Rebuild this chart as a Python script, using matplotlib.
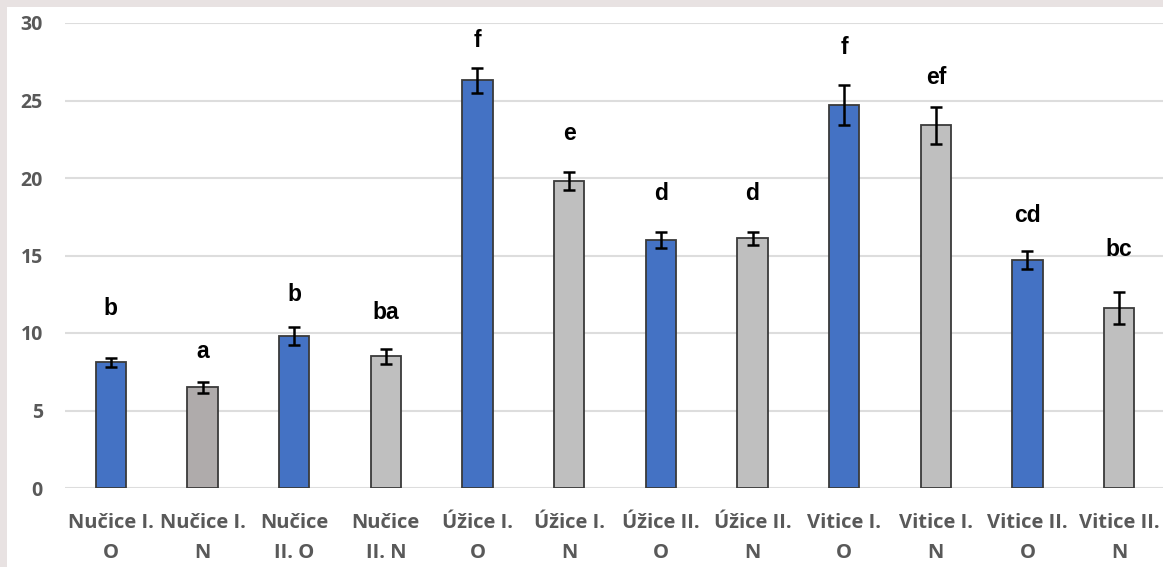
import numpy as np
import matplotlib.pyplot as plt

labels = ["Nučice I.\nO", "Nučice I.\nN", "Nučice\nII. O", "Nučice\nII. N",
          "Úžice I.\nO", "Úžice I.\nN", "Úžice II.\nO", "Úžice II.\nN",
          "Vitice I.\nO", "Vitice I.\nN", "Vitice II.\nO", "Vitice II.\nN"]
means = [8.1, 6.5, 9.8, 8.5, 26.3, 19.8, 16.0, 16.1, 24.7, 23.4, 14.7, 11.6]
errors = [0.3, 0.35, 0.6, 0.5, 0.8, 0.6, 0.5, 0.4, 1.3, 1.2, 0.6, 1.05]
letters = ["b", "a", "b", "ba", "f", "e", "d", "d", "f", "ef", "cd", "bc"]
letter_y = [11.6, 8.8, 12.5, 11.3, 28.9, 22.9, 19.0, 19.0, 28.4, 26.5, 17.6, 15.4]

blue = "#4472C4"
grey = "#BFBFBF"
colors = [blue, "#AFABAB", blue, grey, blue, grey, blue, grey, blue, grey, blue, grey]

fig = plt.figure(figsize=(11.63, 5.67), dpi=100, facecolor="#E8E2E2")
# white panel behind the chart
panel = plt.Rectangle((7 / 1163, 0), 1, 1 - 7 / 567, transform=fig.transFigure,
                      facecolor="white", edgecolor="none", zorder=-5)
fig.patches.append(panel)

ax = fig.add_axes([65 / 1163, 79 / 567, 1100 / 1163, 465 / 567])
ax.set_facecolor("none")
ax.set_zorder(1)

x = np.arange(len(means))
ax.bar(x, means, width=0.33, color=colors, edgecolor="#3A3A3A", linewidth=1.3, zorder=3)
ax.errorbar(x, means, yerr=errors, fmt="none", ecolor="black", elinewidth=1.8,
            capsize=4.5, capthick=1.8, zorder=4)

for xi, lab, ly in zip(x, letters, letter_y):
    ax.text(xi, ly, lab, ha="center", va="center", fontsize=16.5, fontweight="bold",
            family="Liberation Sans", color="black")

ax.set_xlim(-0.5, len(means) - 0.5)
ax.set_ylim(0, 30)
ax.set_yticks(range(0, 31, 5))
ax.yaxis.grid(True, color="#DDDDDD", linewidth=1.5, zorder=0)
ax.set_axisbelow(True)
for s in ax.spines.values():
    s.set_visible(False)

ax.set_xticks(x)
ax.set_xticklabels(labels, linespacing=1.65)
ax.tick_params(axis="both", length=0, colors="#595959")
ax.tick_params(axis="x", pad=18)
ax.tick_params(axis="y", pad=16)
for t in ax.get_xticklabels():
    t.set_family("Open Sans")
    t.set_fontweight("bold")
    t.set_fontsize(14.5)
for t in ax.get_yticklabels():
    t.set_family("Open Sans")
    t.set_fontweight("bold")
    t.set_fontsize(14)

fig.savefig("out.png", dpi=100, facecolor=fig.get_facecolor())
